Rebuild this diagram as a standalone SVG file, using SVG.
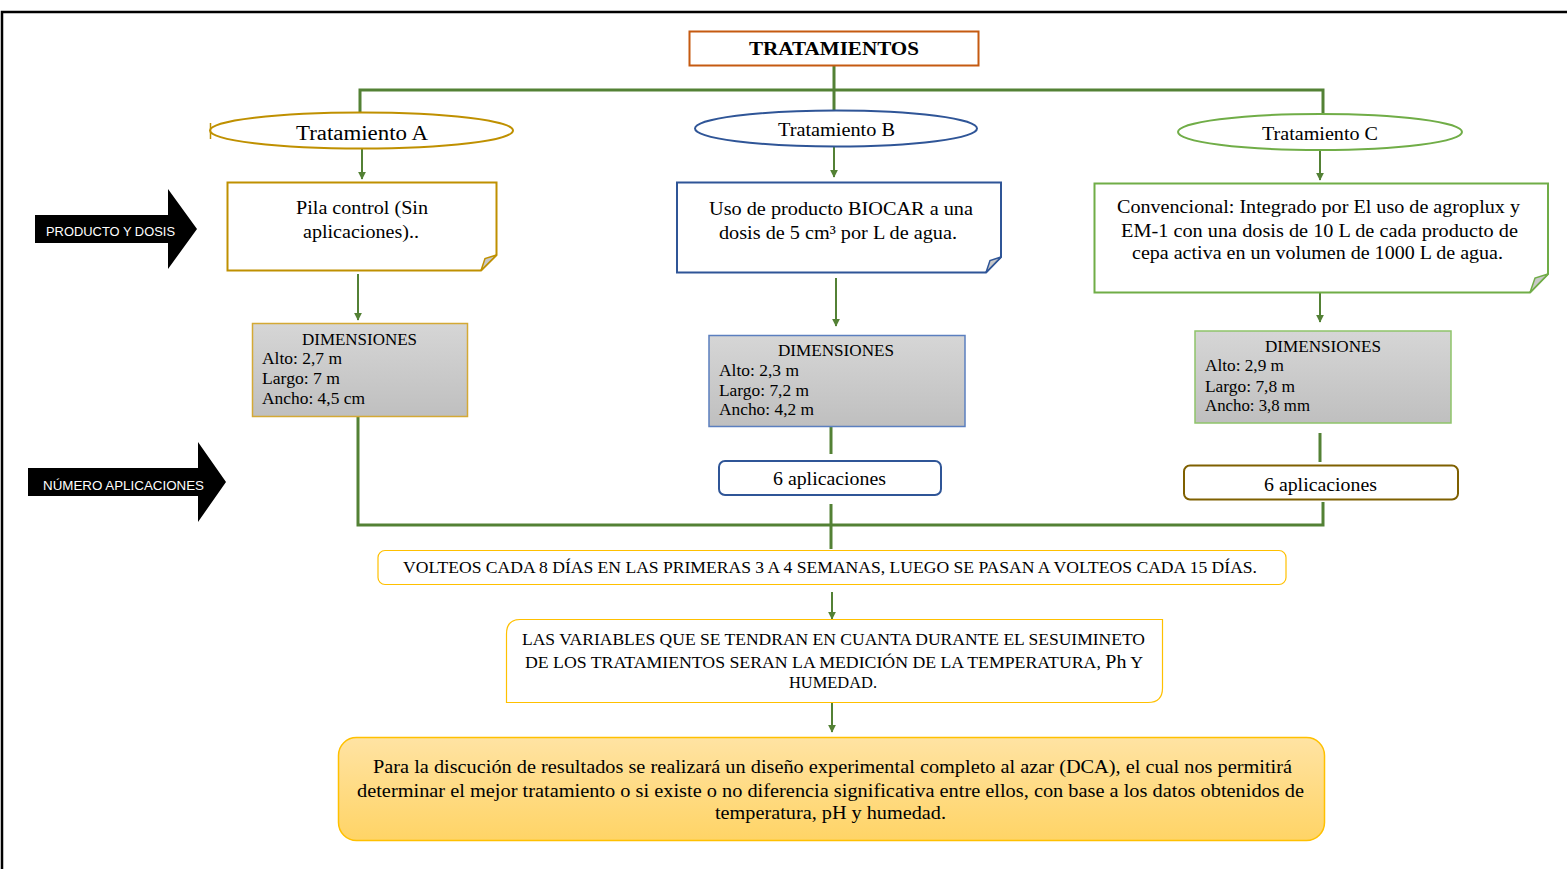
<svg xmlns="http://www.w3.org/2000/svg" width="1567" height="869" viewBox="0 0 1567 869">
<defs>
  <linearGradient id="gray" x1="0" y1="0" x2="0" y2="1">
    <stop offset="0" stop-color="#d6d6d6"/>
    <stop offset="1" stop-color="#bfbfbf"/>
  </linearGradient>
  <linearGradient id="gold" x1="0" y1="0" x2="0" y2="1">
    <stop offset="0" stop-color="#ffe3a3"/>
    <stop offset="1" stop-color="#ffd466"/>
  </linearGradient>
  <marker id="arr" viewBox="0 0 10 10" refX="9" refY="5" markerWidth="4" markerHeight="4" orient="auto" markerUnits="strokeWidth">
    <path d="M0,0 L10,5 L0,10 Z" fill="#538135"/>
  </marker>
</defs>
<style>
  .serif { font-family: "Liberation Serif", "Times New Roman", serif; fill: #000; }
  .sans { font-family: "Liberation Sans", Arial, sans-serif; fill: #fff; }
  .conn { stroke: #538135; fill: none; }
  .thick { stroke-width: 3; }
  .thin { stroke-width: 2; }
  .fold { fill: #c8c8c8; }
</style>
<rect width="1567" height="869" fill="#fff"/>
<!-- outer frame -->
<path d="M2,869 V12 H1567" fill="none" stroke="#000" stroke-width="2.5"/>

<g id="connectors">
  <path class="conn thick" d="M834,66 V90 M360,112 V90 H1323 V114 M834,90 V110"/>
  <line class="conn thin" x1="362" y1="149" x2="362" y2="179" marker-end="url(#arr)"/>
  <line class="conn thin" x1="834" y1="147" x2="834" y2="177" marker-end="url(#arr)"/>
  <line class="conn thin" x1="1320" y1="151" x2="1320" y2="180" marker-end="url(#arr)"/>
  <line class="conn thin" x1="358" y1="274" x2="358" y2="320" marker-end="url(#arr)"/>
  <line class="conn thin" x1="836" y1="278" x2="836" y2="326" marker-end="url(#arr)"/>
  <line class="conn thin" x1="1320" y1="293" x2="1320" y2="322" marker-end="url(#arr)"/>
  <path class="conn thick" d="M358,417 V525 H1323 V502"/>
  <line class="conn thick" x1="831" y1="426" x2="831" y2="454"/>
  <line class="conn thick" x1="831" y1="504" x2="831" y2="549"/>
  <line class="conn thick" x1="1320" y1="433" x2="1320" y2="462"/>
  <line class="conn thin" x1="832" y1="592" x2="832" y2="619" marker-end="url(#arr)"/>
  <line class="conn thin" x1="832" y1="703" x2="832" y2="732" marker-end="url(#arr)"/>
</g>

<g id="tratamientos">
  <rect x="689.5" y="31.5" width="289" height="34" fill="#fff" stroke="#C55A11" stroke-width="2"/>
  <text class="serif" x="834" y="55" font-size="18" font-weight="bold" text-anchor="middle" textLength="170" lengthAdjust="spacingAndGlyphs">TRATAMIENTOS</text>
</g>

<g id="tratA">
  <ellipse cx="361.5" cy="130.5" rx="151.5" ry="18" fill="#fff" stroke="#BF9000" stroke-width="2"/>
  <line x1="210.5" y1="123" x2="210.5" y2="139" stroke="#BF9000" stroke-width="1.5"/>
  <text class="serif" x="362" y="140" font-size="20" text-anchor="middle" textLength="132" lengthAdjust="spacingAndGlyphs">Tratamiento  A</text>
</g>
<g id="tratB">
  <ellipse cx="836" cy="128.5" rx="141" ry="18" fill="#fff" stroke="#2F5597" stroke-width="2"/>
  <text class="serif" x="836.5" y="136" font-size="18" text-anchor="middle" textLength="117" lengthAdjust="spacingAndGlyphs">Tratamiento  B</text>
</g>
<g id="tratC">
  <ellipse cx="1320" cy="132" rx="142" ry="18" fill="#fff" stroke="#70AD47" stroke-width="2"/>
  <text class="serif" x="1320" y="140" font-size="18" text-anchor="middle" textLength="116" lengthAdjust="spacingAndGlyphs">Tratamiento  C</text>
</g>

<g id="productoA">
  <path d="M227.5,182.5 H496.5 V255 L481,270.5 H227.5 Z" fill="#fff" stroke="#BF9000" stroke-width="2"/>
  <path class="fold" d="M481,270.5 L485,258.5 L496.5,255 Z" stroke="#BF9000" stroke-width="1.5"/>
  <text class="serif" x="362" y="214" font-size="19" text-anchor="middle" textLength="132" lengthAdjust="spacingAndGlyphs">Pila control (Sin</text>
  <text class="serif" x="361" y="238" font-size="19" text-anchor="middle" textLength="116" lengthAdjust="spacingAndGlyphs">aplicaciones)..</text>
</g>
<g id="productoB">
  <path d="M677,182.5 H1001 V257 L986,272.5 H677 Z" fill="#fff" stroke="#2F5597" stroke-width="2"/>
  <path class="fold" d="M986,272.5 L990,260.5 L1001,257 Z" stroke="#2F5597" stroke-width="1.5"/>
  <text class="serif" x="841" y="215" font-size="19" text-anchor="middle" textLength="264" lengthAdjust="spacingAndGlyphs">Uso de producto BIOCAR a una</text>
  <text class="serif" x="838" y="239" font-size="19" text-anchor="middle" textLength="238" lengthAdjust="spacingAndGlyphs">dosis de 5 cm³ por L de agua.</text>
</g>
<g id="productoC">
  <path d="M1094.5,183.5 H1548 V274 L1530,292.5 H1094.5 Z" fill="#fff" stroke="#70AD47" stroke-width="2"/>
  <path class="fold" d="M1530,292.5 L1535,278 L1548,274 Z" stroke="#70AD47" stroke-width="1.5"/>
  <text class="serif" x="1318.5" y="213" font-size="19" text-anchor="middle" textLength="403" lengthAdjust="spacingAndGlyphs">Convencional:  Integrado por El uso de agroplux y</text>
  <text class="serif" x="1319.5" y="237" font-size="19" text-anchor="middle" textLength="397" lengthAdjust="spacingAndGlyphs">EM-1 con una dosis de 10 L de cada producto de</text>
  <text class="serif" x="1317.5" y="259" font-size="19" text-anchor="middle" textLength="371" lengthAdjust="spacingAndGlyphs">cepa activa en un volumen de 1000 L de agua.</text>
</g>

<g id="dimA">
  <rect x="252.5" y="323.5" width="215" height="93" fill="url(#gray)" stroke="#D4A935" stroke-width="1.5"/>
  <text class="serif" x="359.5" y="345" font-size="16" text-anchor="middle" textLength="115" lengthAdjust="spacingAndGlyphs">DIMENSIONES</text>
  <text class="serif" x="262" y="364" font-size="16" textLength="80" lengthAdjust="spacingAndGlyphs">Alto:  2,7 m</text>
  <text class="serif" x="262" y="384" font-size="16" textLength="78" lengthAdjust="spacingAndGlyphs">Largo:  7 m</text>
  <text class="serif" x="262" y="404" font-size="16" textLength="103" lengthAdjust="spacingAndGlyphs">Ancho:  4,5 cm</text>
</g>
<g id="dimB">
  <rect x="709" y="335.5" width="256" height="91" fill="url(#gray)" stroke="#5B7FBF" stroke-width="1.5"/>
  <text class="serif" x="836" y="356" font-size="16" text-anchor="middle" textLength="116" lengthAdjust="spacingAndGlyphs">DIMENSIONES</text>
  <text class="serif" x="719" y="376" font-size="16" textLength="80" lengthAdjust="spacingAndGlyphs">Alto:  2,3 m</text>
  <text class="serif" x="719" y="396" font-size="16" textLength="90" lengthAdjust="spacingAndGlyphs">Largo:  7,2 m</text>
  <text class="serif" x="719" y="415" font-size="16" textLength="95" lengthAdjust="spacingAndGlyphs">Ancho:  4,2 m</text>
</g>
<g id="dimC">
  <rect x="1195" y="331" width="256" height="92" fill="url(#gray)" stroke="#8FC46A" stroke-width="1.5"/>
  <text class="serif" x="1323" y="352" font-size="16" text-anchor="middle" textLength="116" lengthAdjust="spacingAndGlyphs">DIMENSIONES</text>
  <text class="serif" x="1205" y="371" font-size="16" textLength="79" lengthAdjust="spacingAndGlyphs">Alto:  2,9 m</text>
  <text class="serif" x="1205" y="392" font-size="16" textLength="90" lengthAdjust="spacingAndGlyphs">Largo:  7,8 m</text>
  <text class="serif" x="1205" y="411" font-size="16" textLength="105" lengthAdjust="spacingAndGlyphs">Ancho:  3,8 mm</text>
</g>

<g id="appB">
  <rect x="719" y="461" width="222" height="34" rx="6" fill="#fff" stroke="#2F5597" stroke-width="2"/>
  <text class="serif" x="829.5" y="485" font-size="18" text-anchor="middle" textLength="113" lengthAdjust="spacingAndGlyphs">6 aplicaciones</text>
</g>
<g id="appC">
  <rect x="1184" y="465.5" width="274" height="34" rx="6" fill="#fff" stroke="#7F6000" stroke-width="2"/>
  <text class="serif" x="1320.5" y="491" font-size="18" text-anchor="middle" textLength="113" lengthAdjust="spacingAndGlyphs">6 aplicaciones</text>
</g>

<g id="volteos">
  <rect x="378" y="550.5" width="908" height="34" rx="7" fill="#fff" stroke="#FFC000" stroke-width="1.2"/>
  <text class="serif" x="830" y="573" font-size="16" text-anchor="middle" textLength="854" lengthAdjust="spacingAndGlyphs">VOLTEOS  CADA 8 DÍAS  EN LAS  PRIMERAS  3 A 4 SEMANAS,  LUEGO  SE PASAN  A VOLTEOS  CADA 15 DÍAS.</text>
</g>

<g id="variables">
  <path d="M520,619.5 H1162.5 V688 Q1162.5,702.5 1148,702.5 H506.5 V634 Q506.5,619.5 520,619.5 Z" fill="#fff" stroke="#FFC000" stroke-width="1.2"/>
  <text class="serif" x="833.5" y="645" font-size="16" text-anchor="middle" textLength="623" lengthAdjust="spacingAndGlyphs">LAS VARIABLES  QUE SE TENDRAN EN CUANTA DURANTE  EL SESUIMINETO</text>
  <text class="serif" x="834" y="668" font-size="16" text-anchor="middle" textLength="618" lengthAdjust="spacingAndGlyphs">DE LOS TRATAMIENTOS  SERAN LA MEDICIÓN DE LA TEMPERATURA,  <tspan font-size="18">Ph</tspan> Y</text>
  <text class="serif" x="833" y="688" font-size="16" text-anchor="middle" textLength="88" lengthAdjust="spacingAndGlyphs">HUMEDAD.</text>
</g>

<g id="discusion">
  <rect x="338.5" y="737.5" width="986" height="103" rx="18" fill="url(#gold)" stroke="#FFC000" stroke-width="1.5"/>
  <text class="serif" x="832.5" y="773" font-size="18" text-anchor="middle" textLength="919" lengthAdjust="spacingAndGlyphs">Para la discución de resultados se realizará  un diseño experimental  completo al azar (DCA), el cual nos permitirá</text>
  <text class="serif" x="830.5" y="797" font-size="18" text-anchor="middle" textLength="947" lengthAdjust="spacingAndGlyphs">determinar  el mejor tratamiento  o si existe o no diferencia  significativa  entre ellos,  con base a los datos obtenidos de</text>
  <text class="serif" x="830.5" y="819" font-size="18" text-anchor="middle" textLength="231" lengthAdjust="spacingAndGlyphs">temperatura, pH y humedad.</text>
</g>

<g id="label-producto">
  <path d="M35,215 H168 V189 L197,229 L168,269 V243 H35 Z" fill="#000"/>
  <text class="sans" x="46" y="236" font-size="13" textLength="129" lengthAdjust="spacingAndGlyphs">PRODUCTO Y DOSIS</text>
</g>
<g id="label-aplicaciones">
  <path d="M28,468 H198 V442 L226,482 L198,522 V496 H28 Z" fill="#000"/>
  <text class="sans" x="43" y="490" font-size="13" textLength="161" lengthAdjust="spacingAndGlyphs">NÚMERO APLICACIONES</text>
</g>
</svg>
